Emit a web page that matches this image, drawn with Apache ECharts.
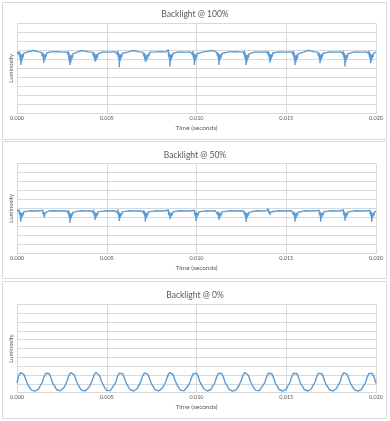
<!DOCTYPE html>
<html>
<head>
<meta charset="utf-8">
<style>
html,body{margin:0;padding:0;background:#fff;}
#chart{width:390px;height:421px;}
</style>
<script src="https://cdn.jsdelivr.net/npm/echarts@6/dist/echarts.min.js"></script>
</head>
<body>
<div id="chart"></div>
<script>
// ---- Data (time in milliseconds, luminosity in arbitrary units 0..10) ----
const panelTitles = ['Backlight @ 100%', 'Backlight @ 50%', 'Backlight @ 0%'];
const xTickLabelsSec = ['0.000', '0.005', '0.010', '0.015', '0.020'];
const xAxisName = 'Time (seconds)';
const yAxisName = 'Luminosity';

// Backlight 100%: [time_ms, luminosity]
const backlight100 = [
  [0,6.8],[0.04,6.82],
  [0.07,6.8],[0.10,6.55],[0.12,6.9],[0.14,6.3],[0.16,6.75],[0.18,6.0],[0.20,6.6],[0.21,5.37],[0.23,6.2],[0.25,5.7],[0.27,6.5],[0.29,6.0],[0.31,6.55],[0.34,6.2],[0.37,6.65],[0.41,6.45],[0.45,6.8],
  [0.6,6.82],[0.9,6.98],[0.92,6.8],[1.2,6.83],
  [1.35,6.8],[1.38,6.6],[1.40,6.9],[1.42,6.35],[1.44,6.75],[1.46,6.1],[1.48,6.6],[1.49,5.63],[1.51,6.25],[1.53,5.9],[1.55,6.5],[1.57,6.1],[1.59,6.55],[1.62,6.3],[1.65,6.7],[1.69,6.5],[1.73,6.8],
  [1.9,6.82],[2.2,6.85],[2.5,6.8],
  [2.81,6.8],[2.84,6.5],[2.86,6.9],[2.88,6.1],[2.90,6.7],[2.92,5.7],[2.94,6.5],[2.95,5.37],[2.97,6.1],[2.99,5.6],[3.01,6.4],[3.03,5.9],[3.05,6.5],[3.08,6.1],[3.11,6.6],[3.15,6.4],[3.19,6.8],
  [3.4,6.82],[3.6,6.98],[3.62,6.8],[4.0,6.83],
  [4.21,6.8],[4.24,6.6],[4.26,6.95],[4.28,6.3],[4.30,6.75],[4.32,6.05],[4.34,6.6],[4.35,5.74],[4.37,6.2],[4.39,5.85],[4.41,6.5],[4.43,6.0],[4.45,6.55],[4.48,6.15],[4.51,6.6],[4.55,6.4],[4.59,6.8],
  [4.8,6.82],[5.2,6.8],[5.45,6.85],
  [5.56,6.8],[5.59,6.55],[5.61,7.0],[5.63,6.3],[5.65,6.75],[5.67,6.0],[5.69,6.6],[5.70,5.11],[5.72,6.2],[5.74,5.8],[5.76,6.5],[5.78,6.05],[5.80,6.55],[5.83,6.25],[5.86,6.65],[5.90,6.5],[5.94,6.8],
  [6.2,6.82],[6.5,6.98],[6.52,6.8],[6.8,6.83],
  [7.01,6.8],[7.04,6.6],[7.06,6.9],[7.08,6.3],[7.10,6.7],[7.12,6.0],[7.14,6.55],[7.15,5.74],[7.17,6.1],[7.19,5.75],[7.21,6.4],[7.23,5.95],[7.25,6.5],[7.28,6.1],[7.31,6.6],[7.35,6.35],[7.39,6.8],
  [7.7,6.82],[8.0,6.85],[8.3,6.8],
  [8.38,6.8],[8.41,6.6],[8.43,7.05],[8.45,6.3],[8.47,6.75],[8.49,6.0],[8.51,6.6],[8.52,5.19],[8.54,6.2],[8.56,5.75],[8.58,6.5],[8.60,6.05],[8.62,6.55],[8.65,6.25],[8.68,6.65],[8.72,6.5],[8.76,6.8],
  [9.0,6.82],[9.4,6.8],[9.65,6.83],
  [9.74,6.8],[9.77,6.55],[9.79,6.9],[9.81,6.3],[9.83,6.75],[9.85,6.0],[9.87,6.6],[9.88,5.37],[9.90,6.2],[9.92,5.75],[9.94,6.5],[9.96,6.0],[9.98,6.55],[10.01,6.2],[10.04,6.65],[10.08,6.45],[10.12,6.8],
  [10.4,6.82],[10.9,6.98],[10.92,6.8],[11.0,6.83],
  [11.11,6.8],[11.14,6.6],[11.16,6.9],[11.18,6.35],[11.20,6.75],[11.22,6.0],[11.24,6.6],[11.25,5.37],[11.27,6.2],[11.29,5.8],[11.31,6.5],[11.33,6.05],[11.35,6.55],[11.38,6.25],[11.41,6.65],[11.45,6.5],[11.49,6.8],
  [11.8,6.82],[12.2,6.85],[12.5,6.8],
  [12.62,6.8],[12.65,6.5],[12.67,6.95],[12.69,6.2],[12.71,6.7],[12.73,5.9],[12.75,6.5],[12.76,5.37],[12.78,6.1],[12.80,5.7],[12.82,6.45],[12.84,5.95],[12.86,6.5],[12.89,6.15],[12.92,6.6],[12.96,6.4],[13.00,6.8],
  [13.3,6.82],[13.6,6.8],[13.9,6.83],
  [13.95,6.8],[13.98,6.6],[14.00,6.9],[14.02,6.35],[14.04,6.75],[14.06,6.1],[14.08,6.6],[14.09,5.63],[14.11,6.25],[14.13,5.85],[14.15,6.5],[14.17,6.1],[14.19,6.55],[14.22,6.3],[14.25,6.7],[14.29,6.5],[14.33,6.8],
  [14.6,6.82],[15.0,6.8],[15.3,6.83],
  [15.35,6.8],[15.38,6.5],[15.40,6.95],[15.42,6.2],[15.44,6.7],[15.46,5.9],[15.48,6.5],[15.49,5.37],[15.51,6.1],[15.53,5.6],[15.55,6.4],[15.57,5.9],[15.59,6.5],[15.62,6.1],[15.65,6.6],[15.69,6.4],[15.73,6.8],
  [16.0,6.82],[16.2,7.0],[16.22,6.8],[16.6,6.83],
  [16.74,6.8],[16.77,6.6],[16.79,7.0],[16.81,6.3],[16.83,6.75],[16.85,6.05],[16.87,6.6],[16.88,5.56],[16.90,6.2],[16.92,5.8],[16.94,6.5],[16.96,6.05],[16.98,6.55],[17.01,6.25],[17.04,6.65],[17.08,6.5],[17.12,6.8],
  [17.4,6.82],[17.8,6.8],[18.05,6.83],
  [18.13,6.8],[18.16,6.55],[18.18,6.9],[18.20,6.25],[18.22,6.7],[18.24,5.95],[18.26,6.55],[18.27,5.19],[18.29,6.15],[18.31,5.7],[18.33,6.45],[18.35,5.95],[18.37,6.5],[18.40,6.15],[18.43,6.6],[18.47,6.4],[18.51,6.8],
  [18.8,6.82],[19.2,6.8],[19.5,6.83],
  [19.56,6.8],[19.59,6.6],[19.61,6.95],[19.63,6.3],[19.65,6.75],[19.67,6.05],[19.69,6.6],[19.70,5.56],[19.72,6.2],[19.74,5.8],[19.76,6.5],[19.78,6.05],[19.80,6.55],[19.83,6.25],[19.86,6.65],[19.90,6.5],[19.94,6.8],
  [20,6.8]
];

// Backlight 50%: [time_ms, luminosity]
const backlight50 = [
  [0,4.7],[0.04,4.72],
  [0.07,4.7],[0.10,4.5],[0.12,4.8],[0.14,4.3],[0.16,4.65],[0.18,4.1],[0.20,4.55],[0.21,3.51],[0.23,4.25],[0.25,3.9],[0.27,4.45],[0.29,4.1],[0.31,4.5],[0.34,4.25],[0.37,4.6],[0.41,4.45],[0.45,4.7],
  [0.7,4.72],[1.0,4.7],[1.3,4.72],
  [1.38,4.7],[1.41,4.55],[1.43,4.8],[1.45,4.35],[1.47,4.65],[1.49,4.2],[1.51,4.55],[1.52,4.0],[1.54,4.3],[1.56,4.1],[1.58,4.5],[1.60,4.2],[1.62,4.55],[1.65,4.35],[1.68,4.6],[1.72,4.5],[1.76,4.7],
  [2.0,4.72],[2.4,4.7],[2.7,4.72],
  [2.81,4.7],[2.84,4.5],[2.86,4.8],[2.88,4.2],[2.90,4.6],[2.92,3.9],[2.94,4.5],[2.95,3.4],[2.97,4.2],[2.99,3.8],[3.01,4.4],[3.03,4.0],[3.05,4.45],[3.08,4.2],[3.11,4.55],[3.15,4.4],[3.19,4.7],
  [3.5,4.72],[3.9,4.7],[4.1,4.72],
  [4.21,4.7],[4.24,4.55],[4.26,4.85],[4.28,4.3],[4.30,4.65],[4.32,4.1],[4.34,4.55],[4.35,3.7],[4.37,4.25],[4.39,3.95],[4.41,4.45],[4.43,4.1],[4.45,4.5],[4.48,4.2],[4.51,4.6],[4.55,4.4],[4.59,4.7],
  [4.9,4.72],[5.2,4.7],[5.45,4.72],
  [5.56,4.7],[5.59,4.5],[5.61,4.85],[5.63,4.3],[5.65,4.65],[5.67,4.05],[5.69,4.55],[5.70,3.6],[5.72,4.25],[5.74,3.9],[5.76,4.45],[5.78,4.1],[5.80,4.5],[5.83,4.25],[5.86,4.6],[5.90,4.45],[5.94,4.7],
  [6.2,4.72],[6.6,4.7],[6.9,4.72],
  [7.01,4.7],[7.04,4.5],[7.06,4.8],[7.08,4.3],[7.10,4.65],[7.12,4.1],[7.14,4.55],[7.15,3.51],[7.17,4.2],[7.19,3.9],[7.21,4.45],[7.23,4.05],[7.25,4.5],[7.28,4.2],[7.31,4.6],[7.35,4.4],[7.39,4.7],
  [7.7,4.72],[8.0,4.7],[8.3,4.72],
  [8.38,4.7],[8.41,4.55],[8.43,4.85],[8.45,4.3],[8.47,4.65],[8.49,4.15],[8.51,4.55],[8.52,3.78],[8.54,4.3],[8.56,4.0],[8.58,4.45],[8.60,4.15],[8.62,4.5],[8.65,4.25],[8.68,4.6],[8.72,4.45],[8.76,4.7],
  [9.0,4.72],[9.4,4.7],[9.75,4.72],
  [9.83,4.7],[9.86,4.5],[9.88,4.8],[9.90,4.3],[9.92,4.65],[9.94,4.1],[9.96,4.55],[9.97,3.63],[9.99,4.25],[10.01,3.95],[10.03,4.45],[10.05,4.1],[10.07,4.5],[10.10,4.25],[10.13,4.6],[10.17,4.45],[10.21,4.7],
  [10.5,4.72],[10.8,4.7],[11.05,4.72],
  [11.11,4.7],[11.14,4.55],[11.16,4.8],[11.18,4.3],[11.20,4.65],[11.22,4.1],[11.24,4.55],[11.25,3.7],[11.27,4.25],[11.29,3.95],[11.31,4.45],[11.33,4.1],[11.35,4.5],[11.38,4.25],[11.41,4.6],[11.45,4.45],[11.49,4.7],
  [11.8,4.72],[12.2,4.7],[12.5,4.72],
  [12.62,4.7],[12.65,4.5],[12.67,4.85],[12.69,4.25],[12.71,4.6],[12.73,4.0],[12.75,4.5],[12.76,3.48],[12.78,4.2],[12.80,3.85],[12.82,4.4],[12.84,4.05],[12.86,4.5],[12.89,4.2],[12.92,4.55],[12.96,4.4],[13.00,4.7],
  [13.3,4.72],[13.7,4.7],[13.9,4.72],
  [13.95,4.7],[13.98,4.8],[14.00,4.95],[14.02,4.5],[14.04,4.75],[14.06,4.4],[14.08,4.65],[14.09,4.26],[14.11,4.5],[14.13,4.3],[14.15,4.6],[14.17,4.4],[14.19,4.6],[14.22,4.45],[14.25,4.65],[14.29,4.55],[14.33,4.7],
  [14.6,4.72],[15.0,4.7],[15.3,4.72],
  [15.35,4.7],[15.38,4.5],[15.40,4.85],[15.42,4.25],[15.44,4.6],[15.46,4.0],[15.48,4.5],[15.49,3.51],[15.51,4.2],[15.53,3.85],[15.55,4.4],[15.57,4.05],[15.59,4.5],[15.62,4.2],[15.65,4.55],[15.69,4.4],[15.73,4.7],
  [16.0,4.72],[16.4,4.7],[16.7,4.72],
  [16.78,4.7],[16.81,4.55],[16.83,4.8],[16.85,4.3],[16.87,4.65],[16.89,4.1],[16.91,4.55],[16.92,3.51],[16.94,4.25],[16.96,3.9],[16.98,4.45],[17.00,4.1],[17.02,4.5],[17.05,4.25],[17.08,4.6],[17.12,4.45],[17.16,4.7],
  [17.4,4.72],[17.8,4.7],[18.05,4.72],
  [18.13,4.7],[18.16,4.5],[18.18,4.85],[18.20,4.3],[18.22,4.65],[18.24,4.1],[18.26,4.55],[18.27,3.63],[18.29,4.25],[18.31,3.95],[18.33,4.45],[18.35,4.1],[18.37,4.5],[18.40,4.25],[18.43,4.6],[18.47,4.45],[18.51,4.7],
  [18.8,4.72],[19.2,4.7],[19.55,4.72],
  [19.62,4.7],[19.65,4.5],[19.67,4.8],[19.69,4.3],[19.71,4.65],[19.73,4.1],[19.75,4.55],[19.76,3.51],[19.78,4.25],[19.80,3.9],[19.82,4.45],[19.84,4.1],[19.86,4.5],[19.89,4.25],[19.92,4.6],[19.96,4.45],[20.00,4.68]
];

// Backlight 0%: luminosity sampled every 0.1 ms from 0 to 20 ms
const backlight0StepMs = 0.1;
const backlight0 = [
  1.1,1.95,2.26,2.28,2.04,1.43,0.95,0.6,0.29,0.2,
  0.19,0.23,0.41,0.82,1.11,1.78,2.2,2.3,2.15,1.65,
  1.02,0.75,0.36,0.21,0.2,0.27,0.55,0.92,1.35,2.0,
  2.27,2.27,2.0,1.35,0.92,0.55,0.27,0.2,0.2,0.29,
  0.6,0.95,1.43,2.04,2.28,2.26,1.95,1.29,0.9,0.52,
  0.26,0.19,0.24,0.45,0.85,1.17,1.84,2.22,2.29,2.11,
  1.57,1.0,0.7,0.34,0.21,0.19,0.25,0.48,0.88,1.23,
  1.9,2.24,2.29,2.07,1.5,0.98,0.65,0.32,0.21,0.2,
  0.26,0.52,0.9,1.29,1.95,2.26,2.28,2.04,1.43,0.95,
  0.6,0.29,0.2,0.21,0.34,0.7,1.0,1.57,2.11,2.29,
  2.22,1.84,1.17,0.85,0.45,0.24,0.19,0.21,0.36,0.75,
  1.02,1.65,2.15,2.3,2.2,1.78,1.11,0.82,0.41,0.23,
  0.19,0.2,0.29,0.6,0.95,1.43,2.04,2.28,2.26,1.95,
  1.29,0.9,0.52,0.26,0.2,0.23,0.41,0.82,1.11,1.78,
  2.2,2.3,2.15,1.65,1.02,0.75,0.36,0.21,0.19,0.23,
  0.41,0.82,1.11,1.78,2.2,2.3,2.15,1.65,1.02,0.75,
  0.36,0.21,0.19,0.24,0.45,0.85,1.17,1.84,2.22,2.29,
  2.11,1.57,1.0,0.7,0.34,0.21,0.19,0.25,0.48,0.88,
  1.23,1.9,2.24,2.29,2.07,1.5,0.98,0.65,0.32,0.21,
  0.19,0.22,0.38,0.8,1.05,1.72,2.18,2.3,2.18,1.72,
  1.05
];

// ---- Chart ----
const FONT = 'Lato, "Liberation Sans", sans-serif';
const GRID_COLOR = '#d9d9d9';
const TEXT_COLOR = '#595959';
const LINE_COLOR = '#5b9bd5';

const panels = [
  { top: 23.3, height: 90, titleTop: 5, frameY: 2.5 },
  { top: 163.3, height: 90, titleTop: 146, frameY: 141.5 },
  { top: 304.3, height: 88.4, titleTop: 286, frameY: 281.5 }
];

const seriesData = [
  backlight100,
  backlight50,
  backlight0.map((v, i) => [i * backlight0StepMs, v])
];

const tickMs = xTickLabelsSec.map(s => parseFloat(s) * 1000);

const option = {
  animation: false,
  backgroundColor: '#ffffff',
  textStyle: { fontFamily: FONT },
  title: panels.map((p, i) => ({
    text: panelTitles[i],
    left: 'center',
    top: p.titleTop,
    textStyle: { fontFamily: FONT, fontSize: 8.5, fontWeight: 'normal', color: TEXT_COLOR }
  })),
  graphic: panels.map(p => ({
    type: 'rect',
    silent: true,
    z: -10,
    shape: { x: 2.5, y: p.frameY, width: 384, height: 137 },
    style: { fill: 'none', stroke: GRID_COLOR, lineWidth: 1 }
  })),
  grid: panels.map(p => ({ left: 17, width: 359, top: p.top, height: p.height })),
  xAxis: panels.map((p, i) => ({
    type: 'value',
    gridIndex: i,
    min: tickMs[0],
    max: tickMs[tickMs.length - 1],
    interval: tickMs[1] - tickMs[0],
    name: xAxisName,
    nameLocation: 'middle',
    nameGap: 11,
    nameTextStyle: { fontFamily: FONT, fontSize: 6.5, color: TEXT_COLOR },
    axisLine: { show: true, lineStyle: { color: GRID_COLOR, width: 1 } },
    axisTick: { show: false },
    axisLabel: {
      margin: 2,
      fontFamily: FONT, fontSize: 5.5, color: TEXT_COLOR,
      formatter: v => {
        const idx = tickMs.findIndex(t => Math.abs(t - v) < 1e-9);
        return idx >= 0 ? xTickLabelsSec[idx] : '';
      }
    },
    splitLine: { show: true, lineStyle: { color: GRID_COLOR, width: 1 } }
  })),
  yAxis: panels.map((p, i) => ({
    type: 'value',
    gridIndex: i,
    min: 0,
    max: 10,
    interval: 1,
    name: yAxisName,
    nameLocation: 'middle',
    nameGap: 3,
    nameRotate: 90,
    nameTextStyle: { fontFamily: FONT, fontSize: 6, color: TEXT_COLOR },
    axisLine: { show: false },
    axisTick: { show: false },
    axisLabel: { show: false },
    splitLine: { show: true, lineStyle: { color: GRID_COLOR, width: 1 } }
  })),
  series: seriesData.map((d, i) => ({
    type: 'line',
    xAxisIndex: i,
    yAxisIndex: i,
    data: d,
    showSymbol: false,
    symbol: 'none',
    lineStyle: { color: LINE_COLOR, width: 1.4 },
    z: 5
  }))
};

const chart = echarts.init(document.getElementById('chart'), null, { renderer: 'canvas' });
chart.setOption(option);
</script>
</body>
</html>
